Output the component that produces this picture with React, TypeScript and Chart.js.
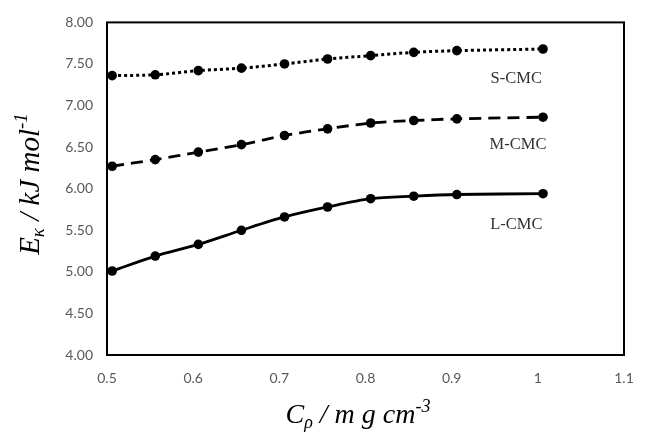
import React, { useEffect, useRef } from "react";
import { Chart, registerables } from "chart.js";

Chart.register(...registerables);

const xValues = [0.506, 0.556, 0.606, 0.656, 0.706, 0.756, 0.806, 0.856, 0.906, 1.006];
const sCMC = [7.36, 7.37, 7.42, 7.45, 7.50, 7.56, 7.60, 7.64, 7.66, 7.68];
const mCMC = [6.27, 6.35, 6.44, 6.53, 6.64, 6.72, 6.79, 6.82, 6.84, 6.86];
const lCMC = [5.01, 5.19, 5.33, 5.50, 5.66, 5.78, 5.88, 5.91, 5.93, 5.94];
const seriesNames = ["S-CMC", "M-CMC", "L-CMC"];
const labelX = [0.975, 0.977, 0.975];
const labelY = [7.32, 6.53, 5.57];
const yTicks = [4, 4.5, 5, 5.5, 6, 6.5, 7, 7.5, 8];
const xTicks = [0.5, 0.6, 0.7, 0.8, 0.9, 1, 1.1];

const W = 649;
const H = 436;

const overlay = {
  id: "overlay",
  beforeDatasetsDraw(chart: any) {
    const { ctx, chartArea } = chart;
    ctx.save();
    ctx.strokeStyle = "#000";
    ctx.lineWidth = 2;
    ctx.strokeRect(chartArea.left, chartArea.top, chartArea.right - chartArea.left, chartArea.bottom - chartArea.top);
    ctx.restore();
  },
  afterDraw(chart: any) {
    const { ctx, chartArea, scales } = chart;
    const xs = scales.x;
    const ys = scales.y;
    ctx.save();
    ctx.fillStyle = "#333";
    ctx.font = '16.5px "Liberation Serif"';
    ctx.textAlign = "center";
    ctx.textBaseline = "middle";
    seriesNames.forEach((n, i) => {
      ctx.fillText(n, xs.getPixelForValue(labelX[i]), ys.getPixelForValue(labelY[i]));
    });

    const drawRich = (parts: { t: string; size: number; dy: number }[], cx: number, cy: number) => {
      let total = 0;
      parts.forEach((p) => {
        ctx.font = `italic ${p.size}px "Liberation Serif"`;
        total += ctx.measureText(p.t).width;
      });
      let x = cx - total / 2;
      ctx.textAlign = "left";
      ctx.textBaseline = "alphabetic";
      parts.forEach((p) => {
        ctx.font = `italic ${p.size}px "Liberation Serif"`;
        ctx.fillText(p.t, x, cy + p.dy);
        x += ctx.measureText(p.t).width;
      });
    };

    ctx.fillStyle = "#000";
    drawRich(
      [
        { t: "C", size: 28, dy: 0 },
        { t: "ρ", size: 18, dy: 5 },
        { t: " / m g cm", size: 28, dy: 0 },
        { t: "-3", size: 18, dy: -11 },
      ],
      358,
      423
    );
    ctx.translate(39, 184);
    ctx.rotate(-Math.PI / 2);
    drawRich(
      [
        { t: "E", size: 29, dy: 0 },
        { t: "κ", size: 19, dy: 5 },
        { t: " / kJ mol", size: 29, dy: 0 },
        { t: "-1", size: 19, dy: -12 },
      ],
      0,
      0
    );
    ctx.restore();
  },
};

export default function App() {
  const ref = useRef<HTMLCanvasElement>(null);
  useEffect(() => {
    document.body.style.margin = "0";
    const common = {
      borderColor: "#000",
      backgroundColor: "#000",
      pointBackgroundColor: "#000",
      pointBorderColor: "#000",
      pointRadius: 4.8,
      pointBorderWidth: 0,
      borderWidth: 2.8,
      tension: 0.3,
      fill: false,
    };
    const chart = new Chart(ref.current!, {
      type: "line",
      data: {
        datasets: [
          { ...common, label: seriesNames[0], data: xValues.map((x, i) => ({ x, y: sCMC[i] })), borderDash: [3, 3], borderWidth: 3 },
          { ...common, label: seriesNames[1], data: xValues.map((x, i) => ({ x, y: mCMC[i] })), borderDash: [12, 7] },
          { ...common, label: seriesNames[2], data: xValues.map((x, i) => ({ x, y: lCMC[i] })) },
        ],
      },
      options: {
        responsive: false,
        animation: false,
        layout: { padding: { top: 15, right: 25, left: 0, bottom: 0 } },
        plugins: { legend: { display: false }, tooltip: { enabled: false } },
        scales: {
          x: {
            type: "linear",
            min: 0.5,
            max: 1.1,
            afterFit: (s: any) => { s.height = 81; },
            afterBuildTicks: (s: any) => { s.ticks = xTicks.map((v) => ({ value: v })); },
            grid: { display: false, drawTicks: false },
            border: { display: false },
            ticks: {
              padding: 15,
              color: "#595959",
              font: { family: "Lato", size: 14 },
              callback: (v: any) => String(Math.round(Number(v) * 10) / 10),
            },
          },
          y: {
            type: "linear",
            min: 4,
            max: 8,
            afterFit: (s: any) => { s.width = 107; },
            afterBuildTicks: (s: any) => { s.ticks = yTicks.map((v) => ({ value: v })); },
            grid: { display: false, drawTicks: false },
            border: { display: false },
            ticks: {
              padding: 14,
              color: "#595959",
              font: { family: "Lato", size: 14 },
              callback: (v: any) => Number(v).toFixed(2),
            },
          },
        },
      },
      plugins: [overlay],
    });
    return () => chart.destroy();
  }, []);
  return (
    <div style={{ position: "absolute", left: 0, top: 0, width: W, height: H, background: "#fff" }}>
      <canvas ref={ref} width={W} height={H} />
    </div>
  );
}
